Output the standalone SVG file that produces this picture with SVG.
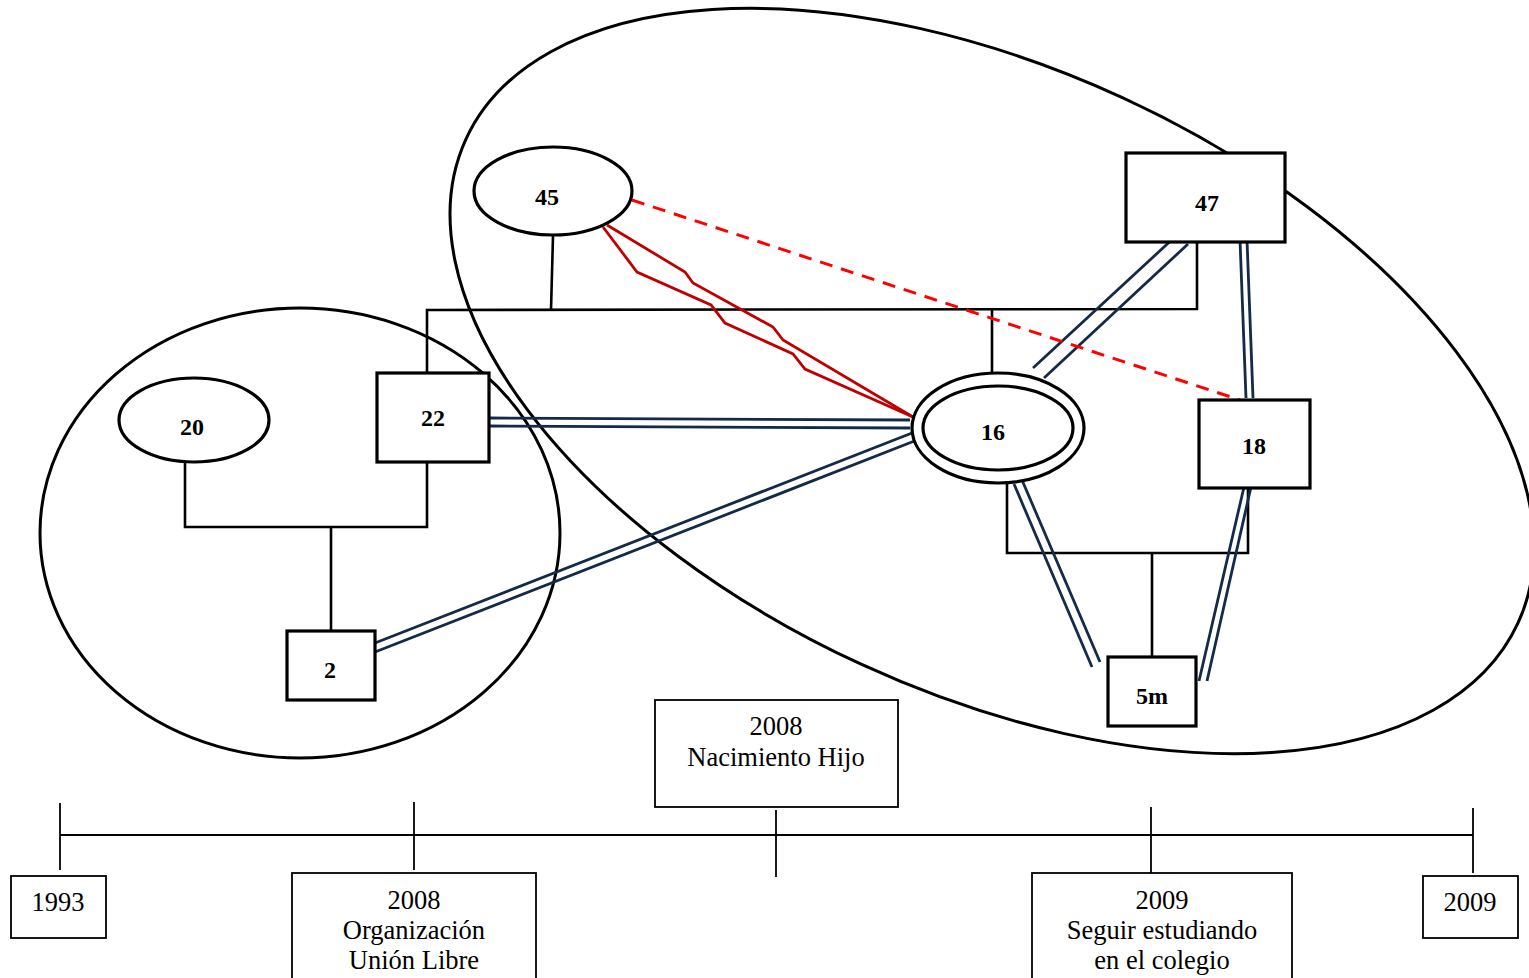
<svg xmlns="http://www.w3.org/2000/svg" width="1529" height="978" viewBox="0 0 1529 978">
<style>
.bg{fill:#fff}
.shape{fill:#fff;stroke:#000;stroke-width:3.2}
.boundary{fill:none;stroke:#000;stroke-width:3}
.lbl{font-family:"Liberation Serif","Times New Roman",serif;font-weight:bold;font-size:24px;fill:#000;text-anchor:middle}
.kin{fill:none;stroke:#000;stroke-width:2.6}
.dbl{fill:none;stroke:#142a47;stroke-width:2.8}
.conf{fill:none;stroke:#c00000;stroke-width:2.8;stroke-linejoin:miter}
.dash{fill:none;stroke:#ff0000;stroke-width:3;stroke-dasharray:13 9}
.tl{fill:none;stroke:#000;stroke-width:1.8}
.box{fill:#fff;stroke:#000;stroke-width:1.8}
.tt{font-family:"Liberation Serif","Times New Roman",serif;font-size:26.5px;fill:#000;text-anchor:middle}
</style>
<rect class="bg" x="0" y="0" width="1529" height="978"/>

<g id="boundaries">
  <ellipse class="boundary" cx="300" cy="533" rx="260" ry="225"/>
  <ellipse class="boundary" cx="992" cy="381" rx="579" ry="312" transform="rotate(24.7 992 381)"/>
</g>

<g id="connectors">
  <polyline class="kin" points="553,236 551,310"/>
  <polyline class="kin" points="427,373 427,310 1197,309 1197,242"/>
  <polyline class="kin" points="992,310 992,386"/>
  <polyline class="kin" points="185,462 185,527 427,527 427,462"/>
  <polyline class="kin" points="331,527 331,631"/>
  <polyline class="kin" points="1007,484 1007,553 1248,553 1248,488"/>
  <polyline class="kin" points="1152,553 1152,657"/>
  <line class="dbl" x1="490" y1="418" x2="910" y2="420"/>
  <line class="dbl" x1="490" y1="426" x2="910" y2="428"/>
  <line class="dbl" x1="375" y1="643" x2="912" y2="433"/>
  <line class="dbl" x1="375" y1="652" x2="917" y2="440"/>
  <line class="dbl" x1="1177" y1="235" x2="1033" y2="368"/>
  <line class="dbl" x1="1188" y1="244" x2="1044" y2="378"/>
  <line class="dbl" x1="1240" y1="240" x2="1246" y2="398"/>
  <line class="dbl" x1="1247" y1="240" x2="1253" y2="398"/>
  <line class="dbl" x1="1014" y1="484" x2="1092" y2="667"/>
  <line class="dbl" x1="1022" y1="480" x2="1100" y2="662"/>
  <line class="dbl" x1="1244" y1="487" x2="1199" y2="681"/>
  <line class="dbl" x1="1251" y1="487" x2="1207" y2="681"/>
  <polyline class="conf" points="607,225 685,272 693,283 773,327 783,340 913,417"/>
  <polyline class="conf" points="603,227 637,272 711,305 725,323 793,354 805,369 913,417"/>
  <line class="dash" x1="632" y1="200" x2="1240" y2="400"/>
</g>

<g id="node-45">
  <ellipse class="shape" cx="553" cy="191" rx="79" ry="44"/>
  <text class="lbl" x="547" y="205">45</text>
</g>
<g id="node-47">
  <rect class="shape" x="1126" y="153" width="159" height="89"/>
  <text class="lbl" x="1207" y="211">47</text>
</g>
<g id="node-20">
  <ellipse class="shape" cx="194" cy="420" rx="75" ry="42"/>
  <text class="lbl" x="192" y="435">20</text>
</g>
<g id="node-22">
  <rect class="shape" x="377" y="373" width="112" height="89"/>
  <text class="lbl" x="433" y="426">22</text>
</g>
<g id="node-16">
  <ellipse class="shape" cx="998" cy="428" rx="86" ry="55"/>
  <ellipse class="shape" cx="998" cy="428" rx="75" ry="42"/>
  <text class="lbl" x="993" y="440">16</text>
</g>
<g id="node-18">
  <rect class="shape" x="1199" y="400" width="111" height="88"/>
  <text class="lbl" x="1254" y="454">18</text>
</g>
<g id="node-2">
  <rect class="shape" x="287" y="631" width="88" height="69"/>
  <text class="lbl" x="330" y="678">2</text>
</g>
<g id="node-5m">
  <rect class="shape" x="1108" y="657" width="88" height="69"/>
  <text class="lbl" x="1152" y="704">5m</text>
</g>

<g id="timeline">
  <line class="tl" x1="60" y1="835" x2="1473" y2="835"/>
  <line class="tl" x1="60" y1="803" x2="60" y2="870"/>
  <line class="tl" x1="414" y1="802" x2="414" y2="870"/>
  <line class="tl" x1="776" y1="810" x2="776" y2="877"/>
  <line class="tl" x1="1151" y1="807" x2="1151" y2="873"/>
  <line class="tl" x1="1473" y1="808" x2="1473" y2="873"/>
</g>
<g id="event-1993">
  <rect class="box" x="11" y="876" width="95" height="62"/>
  <text class="tt" x="58" y="911">1993</text>
</g>
<g id="event-2008-union">
  <rect class="box" x="292" y="873" width="244" height="120"/>
  <text class="tt" x="414" y="909">2008</text>
  <text class="tt" x="414" y="939">Organización</text>
  <text class="tt" x="414" y="969">Unión Libre</text>
</g>
<g id="event-2008-hijo">
  <rect class="box" x="655" y="700" width="243" height="107"/>
  <text class="tt" x="776" y="735">2008</text>
  <text class="tt" x="776" y="766">Nacimiento Hijo</text>
</g>
<g id="event-2009-colegio">
  <rect class="box" x="1032" y="873" width="260" height="120"/>
  <text class="tt" x="1162" y="909">2009</text>
  <text class="tt" x="1162" y="939">Seguir estudiando</text>
  <text class="tt" x="1162" y="969">en el colegio</text>
</g>
<g id="event-2009">
  <rect class="box" x="1423" y="876" width="95" height="62"/>
  <text class="tt" x="1470" y="911">2009</text>
</g>
</svg>
